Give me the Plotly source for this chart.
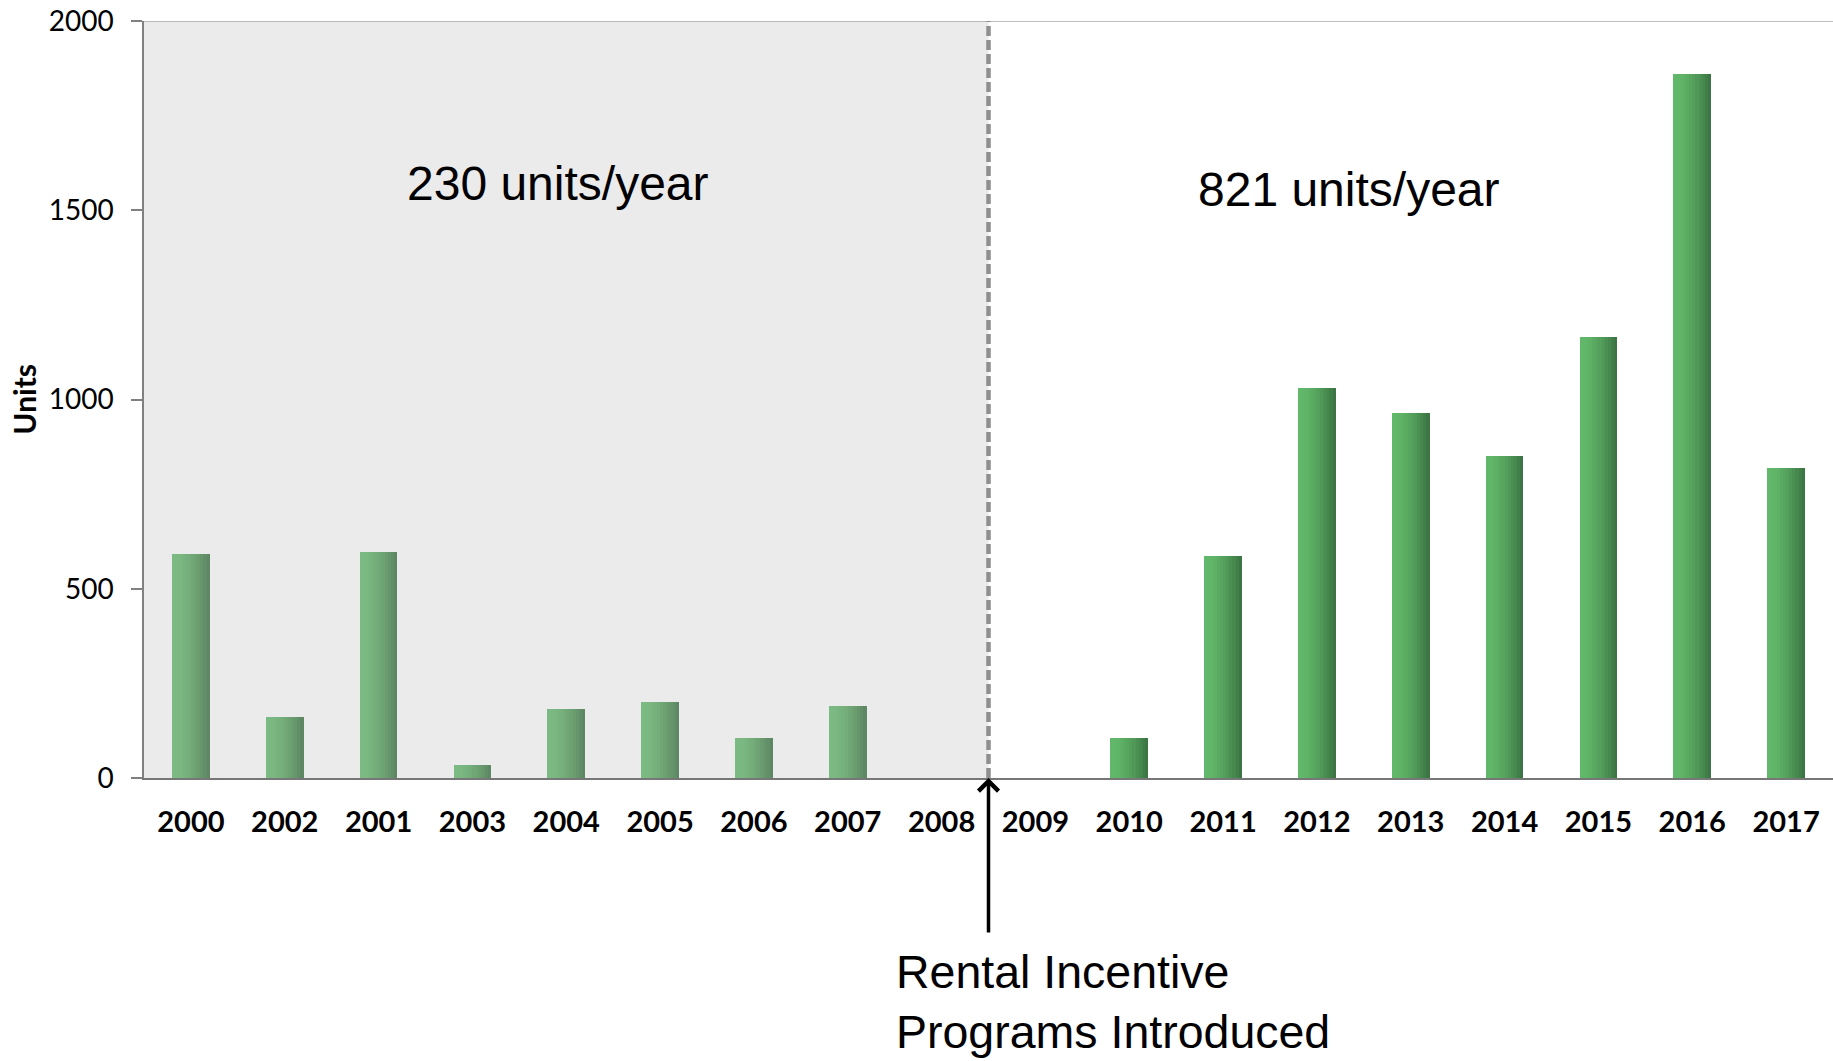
import plotly.graph_objects as go

# ---- data ----
years = ["2000", "2002", "2001", "2003", "2004", "2005", "2006", "2007", "2008",
         "2009", "2010", "2011", "2012", "2013", "2014", "2015", "2016", "2017"]
units = [593, 160, 596, 34, 182, 200, 105, 191, 0,
         0, 105, 587, 1030, 965, 850, 1165, 1860, 820]
y_ticks = [0, 500, 1000, 1500, 2000]
before_label = "230 units/year"
after_label = "821 units/year"
event_label = "Rental Incentive<br>Programs Introduced"
split_after = "2008"  # programs introduced between 2008 and 2009

split_idx = years.index(split_after) + 0.5

# ---- gradient colours (left -> right across each bar) ----
def lerp(c1, c2, t):
    return "rgb(%d,%d,%d)" % tuple(round(a + (b - a) * t) for a, b in zip(c1, c2))

left_light, left_dark = (124, 186, 131), (94, 136, 99)
right_light, right_dark = (98, 184, 106), (60, 118, 68)

N = 12
bar_w = 0.4
strip = bar_w / N
fig = go.Figure()
for i in range(N):
    t = i / (N - 1)
    t = t ** 1.6
    cols = [lerp(left_light, left_dark, t) if k < split_idx else lerp(right_light, right_dark, t)
            for k in range(len(years))]
    fig.add_trace(go.Bar(
        x=years, y=units,
        width=[strip * 1.02] * len(years),
        offset=-bar_w / 2 + i * strip,
        marker=dict(color=cols, line=dict(width=0)),
        hoverinfo="skip", showlegend=False,
    ))

# shaded "before" region
fig.add_shape(type="rect", xref="x", yref="y", x0=-0.5, x1=split_idx, y0=0, y1=2000,
              fillcolor="#ebebeb", line=dict(width=0), layer="below")
# top border line
fig.add_shape(type="line", xref="paper", yref="y", x0=0, x1=1, y0=2000, y1=2000,
              line=dict(color="#a8a8a8", width=1.5))
# dashed divider
fig.add_shape(type="line", xref="x", yref="y", x0=split_idx, x1=split_idx, y0=0, y1=2000,
              line=dict(color="#8f8f8f", width=4.5, dash="10px,4px"))

# arrow
fig.add_annotation(x=split_idx, y=0, xref="x", yref="y", text="", showarrow=True,
                   ax=0, ay=156, arrowhead=4, arrowsize=1.1, arrowwidth=3.5,
                   arrowcolor="black", standoff=0)

font_txt = "Liberation Sans, Arial, sans-serif"
fig.add_annotation(x=3.91, y=1570, xref="x", yref="y", text=before_label, showarrow=False,
                   font=dict(family=font_txt, size=48, color="black"))
fig.add_annotation(x=12.34, y=1555, xref="x", yref="y", text=after_label, showarrow=False,
                   font=dict(family=font_txt, size=48, color="black"))
fig.add_annotation(x=7.49, y=-0.219, xref="x", yref="paper", text=event_label, showarrow=False,
                   xanchor="left", yanchor="top", align="left",
                   font=dict(family=font_txt, size=46.5, color="black"))
# y-axis title
fig.add_annotation(x=-0.0834, y=0.5, xref="paper", yref="paper", text="<b>Units</b>",
                   showarrow=False, textangle=-90,
                   font=dict(family="Lato, sans-serif", size=30, color="black"))

fig.update_layout(
    width=1833, height=1061,
    margin=dict(l=144, r=0, t=21, b=283, autoexpand=False),
    paper_bgcolor="white", plot_bgcolor="white",
    barmode="overlay", bargap=0,
    showlegend=False,
)
fig.update_xaxes(
    type="category", categoryorder="array", categoryarray=years,
    range=[-0.5, len(years) - 0.5], automargin=False,
    showline=True, linecolor="#777777", linewidth=2,
    showgrid=False, ticks="", zeroline=False,
    tickfont=dict(family="Lato, sans-serif", size=29, color="black", weight="bold"),
    ticklabelstandoff=17,
)
fig.update_yaxes(
    range=[0, 2000], tickvals=y_ticks, automargin=False,
    showline=True, linecolor="#808080", linewidth=1.5,
    ticks="outside", ticklen=11, tickcolor="#808080", tickwidth=1.5,
    showgrid=False, zeroline=False,
    tickfont=dict(family="Lato, sans-serif", size=28, color="black"),
    ticklabelstandoff=12,
)

fig.write_html("out.html", config={"displayModeBar": False},
               post_script="document.body.style.margin='0';document.body.style.overflow='hidden';")
